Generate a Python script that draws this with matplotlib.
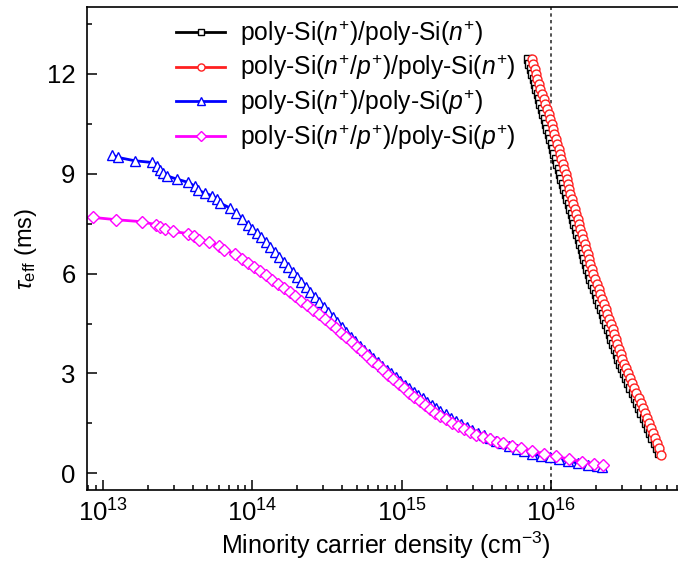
import matplotlib
matplotlib.use("Agg")
import matplotlib.pyplot as plt
from matplotlib.ticker import LogLocator, MultipleLocator
import numpy as np

plt.rcParams['font.family'] = ['Liberation Sans', 'DejaVu Sans']
plt.rcParams['mathtext.fontset'] = 'custom'
plt.rcParams['mathtext.rm'] = 'Liberation Sans'
plt.rcParams['mathtext.it'] = 'Liberation Sans:italic'
plt.rcParams['mathtext.bf'] = 'Liberation Sans:bold'

# poly-Si(n+)/poly-Si(n+) : density in 1e15 cm^-3, lifetime in ms
n_nn = [7.02, 7.17, 7.33, 7.48, 7.64, 7.80, 7.96, 8.14, 8.32, 8.49, 8.67, 8.86, 9.06, 9.25, 9.44, 9.64,
        9.85, 10.07, 10.29, 10.52, 10.76, 10.99, 11.24, 11.48, 11.74, 12.00, 12.27, 12.54, 12.82, 13.11,
        13.40, 13.70, 14.00, 14.32, 14.63, 14.96, 15.29, 15.63, 15.98, 16.33, 16.69, 17.06, 17.45,
        17.85, 18.33, 18.84, 19.36, 19.89, 20.42, 20.99, 21.58, 22.18, 22.75, 23.39, 24.04, 24.72,
        25.35, 26.06, 26.79, 27.54, 28.25, 29.04, 29.85,
        30.69, 31.77, 32.81, 33.96, 35.08, 36.31, 37.58, 38.82, 40.18, 41.59, 42.95, 44.46, 45.92,
        47.53, 49.20, 50.82, 52.60]
tau_nn = [12.45, 12.30, 12.15, 12.00, 11.85, 11.70, 11.55, 11.40, 11.25, 11.10, 10.95, 10.80, 10.65,
          10.50, 10.35, 10.20, 10.05, 9.90, 9.75, 9.60, 9.45, 9.30, 9.15, 9.00, 8.85, 8.70, 8.55,
          8.40, 8.25, 8.10, 7.95, 7.80, 7.65, 7.50, 7.35, 7.20, 7.05, 6.90, 6.75, 6.60, 6.45, 6.30,
          6.15, 6.00, 5.85, 5.70, 5.55, 5.40, 5.25, 5.10, 4.95, 4.80, 4.65, 4.50, 4.35, 4.20, 4.05,
          3.90, 3.75, 3.60, 3.45, 3.30, 3.15, 3.00, 2.85, 2.70, 2.55, 2.40, 2.25, 2.10, 1.95, 1.80,
          1.65, 1.50, 1.35, 1.20, 1.05, 0.90, 0.75, 0.60]

# poly-Si(n+/p+)/poly-Si(n+)
n_npn = [7.44, 7.60, 7.77, 7.93, 8.10, 8.27, 8.44, 8.63, 8.90, 9.17, 9.45, 9.66, 9.88, 10.08, 10.29, 10.51,
         10.74, 10.98, 11.22, 11.47, 11.73, 11.98, 12.25, 12.51, 12.74, 12.96, 13.25, 13.48, 13.78, 14.09,
         14.41, 14.73, 15.05, 15.39, 15.73, 16.08, 16.44, 16.80, 17.18, 17.55, 17.94, 18.34, 18.76,
         19.19, 19.70, 20.25, 20.81, 21.38, 21.95, 22.56, 23.20, 23.84, 24.46, 25.14, 25.84, 26.45,
         27.12, 27.75, 28.53, 29.19, 29.95, 30.78, 31.64,
         32.53, 33.68, 34.78, 36.00, 37.18, 38.49, 39.83, 41.15, 42.59, 43.88, 45.10, 46.68, 47.99,
         49.67, 51.41, 53.11, 54.30]
tau_npn = [12.45, 12.30, 12.15, 12.00, 11.85, 11.70, 11.55, 11.40, 11.25, 11.10, 10.95, 10.80, 10.65,
           10.50, 10.35, 10.20, 10.05, 9.90, 9.75, 9.60, 9.45, 9.30, 9.15, 9.00, 8.85, 8.70, 8.55,
           8.40, 8.25, 8.10, 7.95, 7.80, 7.65, 7.50, 7.35, 7.20, 7.05, 6.90, 6.75, 6.60, 6.45, 6.30,
           6.15, 6.00, 5.85, 5.70, 5.55, 5.40, 5.25, 5.10, 4.95, 4.80, 4.65, 4.50, 4.35, 4.20, 4.05,
           3.90, 3.75, 3.60, 3.45, 3.30, 3.15, 3.00, 2.85, 2.70, 2.55, 2.40, 2.25, 2.10, 1.95, 1.80,
           1.65, 1.50, 1.35, 1.20, 1.05, 0.90, 0.75, 0.55]

# poly-Si(n+)/poly-Si(p+) : density in cm^-3
n_np = [1.15e13, 1.27e13, 1.64e13, 2.13e13, 2.32e13, 2.42e13, 2.55e13, 2.68e13, 3.13e13, 3.74e13,
        4.15e13, 4.37e13, 4.84e13, 5.37e13, 5.80e13, 6.10e13, 7.11e13,
        7.76e13, 8.51e13, 9.33e13, 1.00e14, 1.07e14, 1.148e14, 1.230e14, 1.318e14, 1.413e14, 1.514e14,
        1.622e14, 1.738e14, 1.862e14, 1.995e14, 2.138e14, 2.291e14, 2.455e14, 2.630e14, 2.818e14,
        3.020e14, 3.236e14, 3.467e14, 3.715e14, 3.981e14, 4.266e14, 4.571e14, 4.898e14, 5.248e14,
        5.623e14, 6.026e14, 6.457e14, 6.918e14, 7.413e14, 7.943e14, 8.511e14, 9.120e14, 9.772e14,
        1.047e15, 1.122e15, 1.202e15, 1.288e15, 1.380e15, 1.479e15, 1.585e15, 1.698e15, 1.820e15,
        1.972e15, 2.138e15, 2.317e15, 2.512e15, 2.723e15, 2.951e15, 3.236e15, 3.548e15, 3.890e15,
        4.266e15, 4.677e15, 5.248e15, 5.888e15, 6.607e15, 7.413e15, 8.511e15, 9.772e15, 1.122e16,
        1.288e16, 1.514e16, 1.778e16, 2.042e16, 2.188e16]
tau_np = [9.57, 9.49, 9.39, 9.34, 9.24, 9.12, 9.02, 8.94, 8.84, 8.74, 8.62, 8.50, 8.42, 8.34, 8.24,
          8.12, 7.97, 7.81, 7.64, 7.47, 7.34, 7.22, 7.09, 6.94, 6.79, 6.64, 6.49, 6.34, 6.19, 6.04,
          5.89, 5.74, 5.59, 5.44, 5.29, 5.14, 4.99, 4.84, 4.69, 4.54, 4.39, 4.24, 4.10, 3.97, 3.84,
          3.71, 3.59, 3.46, 3.34, 3.22, 3.11, 3.00, 2.89, 2.77, 2.66, 2.55, 2.45, 2.35, 2.25, 2.15,
          2.06, 1.96, 1.86, 1.77, 1.67, 1.58, 1.48, 1.39, 1.30, 1.22, 1.14, 1.06, 0.98, 0.90, 0.83,
          0.74, 0.67, 0.59, 0.53, 0.48, 0.42, 0.37, 0.31, 0.26, 0.22, 0.18]

# poly-Si(n+/p+)/poly-Si(p+)
n_npp = [8.57e12, 1.23e13, 1.82e13, 2.27e13, 2.42e13, 2.61e13, 2.94e13, 3.74e13, 4.08e13, 4.44e13,
         5.18e13, 6.03e13, 6.49e13, 7.69e13,
         8.51e13, 9.33e13, 1.023e14, 1.122e14, 1.230e14, 1.349e14, 1.479e14, 1.622e14, 1.778e14,
         1.950e14, 2.138e14, 2.344e14, 2.570e14, 2.818e14, 3.090e14, 3.350e14, 3.631e14, 3.936e14,
         4.266e14, 4.624e14, 5.012e14, 5.433e14, 5.888e14, 6.383e14, 6.918e14, 7.499e14, 8.128e14,
         8.810e14, 9.550e14, 1.035e15, 1.122e15, 1.216e15, 1.318e15, 1.429e15, 1.549e15, 1.679e15,
         1.820e15, 1.995e15, 2.188e15, 2.399e15, 2.630e15, 2.884e15, 3.162e15, 3.508e15, 3.890e15,
         4.315e15, 4.786e15, 5.495e15, 6.310e15, 7.413e15, 8.913e15, 1.072e16, 1.318e16, 1.622e16,
         1.950e16, 2.213e16]
tau_npp = [7.69, 7.62, 7.56, 7.47, 7.39, 7.34, 7.27, 7.20, 7.12, 7.02, 6.94, 6.84, 6.72, 6.60,
           6.45, 6.33, 6.20, 6.08, 5.95, 5.82, 5.70, 5.57, 5.44, 5.32, 5.19, 5.05, 4.91, 4.78, 4.63,
           4.49, 4.36, 4.22, 4.09, 3.95, 3.81, 3.67, 3.53, 3.39, 3.25, 3.11, 2.96, 2.82, 2.68, 2.55,
           2.42, 2.29, 2.16, 2.04, 1.93, 1.82, 1.72, 1.62, 1.51, 1.41, 1.32, 1.24, 1.16, 1.09, 1.02,
           0.95, 0.90, 0.83, 0.76, 0.68, 0.59, 0.51, 0.43, 0.35, 0.29, 0.25]

labels = ['poly-Si($n^{+}$)/poly-Si($n^{+}$)',
          'poly-Si($n^{+}$/$p^{+}$)/poly-Si($n^{+}$)',
          'poly-Si($n^{+}$)/poly-Si($p^{+}$)',
          'poly-Si($n^{+}$/$p^{+}$)/poly-Si($p^{+}$)']

fig = plt.figure(figsize=(6.78, 5.67), dpi=100)
ax = fig.add_axes([0.1279, 0.1358, 0.884, 0.8513])

ax.plot(np.array(n_nn) * 1e15, tau_nn, '-s', color='black', lw=2, ms=6.0,
        mfc='white', mew=1.0, label=labels[0])
ax.plot(np.array(n_npn) * 1e15, tau_npn, '-o', color='#ff2020', lw=2, ms=6.4,
        mfc='white', mew=1.0, label=labels[1])
ax.plot(n_np, tau_np, '-^', color='#0000ff', lw=2, ms=7.2,
        mfc='white', mew=1.0, label=labels[2])
ax.plot(n_npp, tau_npp, '-D', color='#ff00ff', lw=2, ms=5.8,
        mfc='white', mew=1.0, label=labels[3])

ax.axvline(1e16, color='#333333', lw=1.2, ls=(0, (2, 2)), zorder=0)

ax.set_xscale('log')
ax.set_xlim(7.82e12, 8.0e16)
ax.set_ylim(-0.5, 14)
ax.yaxis.set_major_locator(MultipleLocator(3))
ax.yaxis.set_minor_locator(MultipleLocator(1.5))
ax.xaxis.set_major_locator(LogLocator(base=10, numticks=10))
ax.xaxis.set_minor_locator(LogLocator(base=10, subs=np.arange(2, 10), numticks=10))

ax.tick_params(which='both', direction='in', width=1.1, labelsize=18.5,
               top=False, right=False)
ax.tick_params(which='major', length=7)
ax.tick_params(which='minor', length=3.6)
ax.tick_params(axis='y', pad=8)
ax.tick_params(axis='x', pad=7)
for s in ax.spines.values():
    s.set_linewidth(1.2)

ax.set_xlabel('Minority carrier density (cm$^{-3}$)', fontsize=18, labelpad=2)
ax.set_ylabel(r'$\tau_{\mathrm{eff}}$ (ms)', fontsize=17, labelpad=6)

ax.legend(loc='upper left', bbox_to_anchor=(0.12, 1.013), frameon=False, fontsize=17.8,
          numpoints=1, markerscale=0.8, handlelength=2.0, handletextpad=0.6,
          labelspacing=0.22, borderaxespad=0.3)

fig.savefig('out.png', dpi=100)
